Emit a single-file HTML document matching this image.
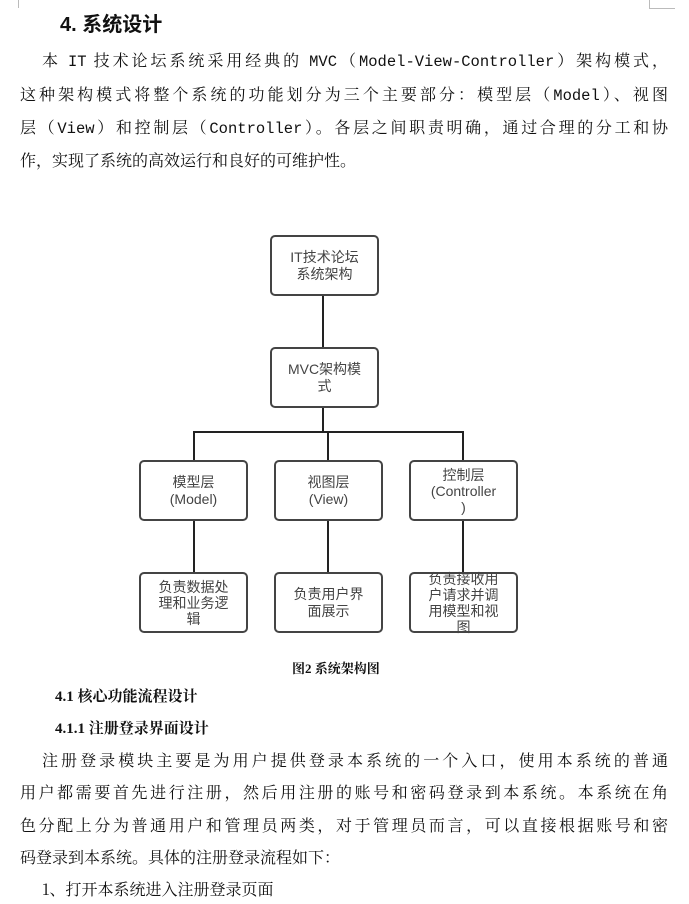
<!DOCTYPE html>
<html><head><meta charset="utf-8"><style>
body{margin:0;width:689px;height:904px;background:#fff;position:relative;overflow:hidden;font-family:"Liberation Serif","Noto Serif CJK SC",serif;color:#111}
.t{position:absolute;white-space:nowrap;font-size:16px;line-height:20px}
.m{font-family:"Liberation Mono","Noto Serif CJK SC",monospace;font-size:15.5px}
.c{font-family:"Noto Serif CJK SC",serif}
.b{position:absolute;border:2px solid #444;border-radius:5px;box-sizing:border-box;display:flex;align-items:center;justify-content:center;text-align:center;font-family:"Liberation Sans","Noto Sans CJK SC",sans-serif;font-size:14px;line-height:17px;color:#444;background:#fff}
.l{position:absolute;background:#222}
.h{font-family:"Liberation Sans","Noto Sans CJK SC",sans-serif;font-weight:bold}
</style></head><body>
<div class="l" style="left:18px;top:0;width:1px;height:8px;background:#bbb"></div>
<div class="l" style="left:649px;top:8px;width:26px;height:1px;background:#bbb"></div>
<div class="l" style="left:649px;top:0;width:1px;height:8px;background:#bbb"></div>
<div class="t h" style="left:60px;top:13px;font-size:20px;line-height:24px">4. 系统设计</div>
<div class="t c" style="left:42px;top:50px;width:626px;text-align:justify;text-align-last:justify">本 <span class="m">IT</span> 技术论坛系统采用经典的 <span class="m">MVC</span>（<span class="m">Model-View-Controller</span>）架构模式，</div>
<div class="t c" style="left:20px;top:84px;width:648px;text-align:justify;text-align-last:justify">这种架构模式将整个系统的功能划分为三个主要部分：模型层（<span class="m">Model</span>）、视图</div>
<div class="t c" style="left:20px;top:117px;width:648px;text-align:justify;text-align-last:justify">层（<span class="m">View</span>）和控制层（<span class="m">Controller</span>）。各层之间职责明确，通过合理的分工和协</div>
<div class="t c" style="left:20px;top:150px">作，实现了系统的高效运行和良好的可维护性。</div>

<div class="l" style="left:322px;top:295px;width:2px;height:52px"></div>
<div class="l" style="left:322px;top:407px;width:2px;height:26px"></div>
<div class="l" style="left:193px;top:431px;width:271px;height:2px"></div>
<div class="l" style="left:193px;top:431px;width:2px;height:30px"></div>
<div class="l" style="left:327px;top:431px;width:2px;height:30px"></div>
<div class="l" style="left:462px;top:431px;width:2px;height:30px"></div>
<div class="l" style="left:193px;top:520px;width:2px;height:53px"></div>
<div class="l" style="left:327px;top:520px;width:2px;height:53px"></div>
<div class="l" style="left:462px;top:520px;width:2px;height:53px"></div>

<div class="b" style="left:270px;top:235px;width:109px;height:61px">IT技术论坛<br>系统架构</div>
<div class="b" style="left:270px;top:347px;width:109px;height:61px">MVC架构模<br>式</div>
<div class="b" style="left:139px;top:460px;width:109px;height:61px">模型层<br>(Model)</div>
<div class="b" style="left:274px;top:460px;width:109px;height:61px">视图层<br>(View)</div>
<div class="b" style="left:409px;top:460px;width:109px;height:61px;line-height:16px">控制层<br>(Controller<br>)</div>
<div class="b" style="left:139px;top:572px;width:109px;height:61px;line-height:16px">负责数据处<br>理和业务逻<br>辑</div>
<div class="b" style="left:274px;top:572px;width:109px;height:61px">负责用户界<br>面展示</div>
<div class="b" style="left:409px;top:572px;width:109px;height:61px;line-height:16px;background:transparent">负责接收用<br>户请求并调<br>用模型和视<br>图</div>

<div class="t" style="left:292px;top:659px;font-size:13px;font-weight:bold">图2 系统架构图</div>
<div class="t" style="left:55px;top:687px;font-size:15px;font-weight:bold">4.1 核心功能流程设计</div>
<div class="t" style="left:55px;top:719px;font-size:15px;font-weight:bold">4.1.1 注册登录界面设计</div>
<div class="t c" style="left:42px;top:750px;width:626px;text-align:justify;text-align-last:justify">注册登录模块主要是为用户提供登录本系统的一个入口，使用本系统的普通</div>
<div class="t c" style="left:20px;top:782px;width:648px;text-align:justify;text-align-last:justify">用户都需要首先进行注册，然后用注册的账号和密码登录到本系统。本系统在角</div>
<div class="t c" style="left:20px;top:815px;width:648px;text-align:justify;text-align-last:justify">色分配上分为普通用户和管理员两类，对于管理员而言，可以直接根据账号和密</div>
<div class="t c" style="left:20px;top:847px">码登录到本系统。具体的注册登录流程如下：</div>
<div class="t c" style="left:42px;top:879px">1、打开本系统进入注册登录页面</div>
</body></html>
